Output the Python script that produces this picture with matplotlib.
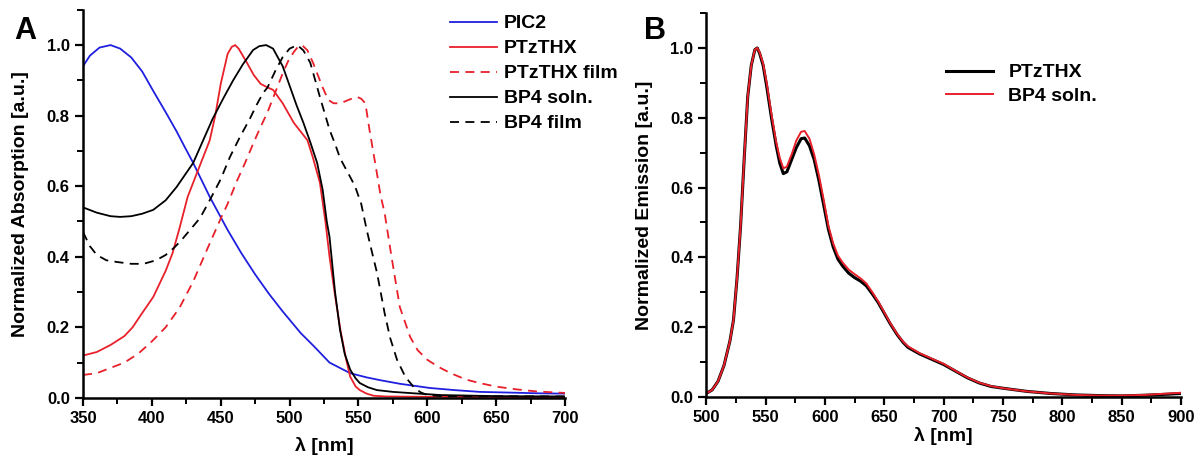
import numpy as np
import matplotlib.pyplot as plt
from matplotlib.ticker import MultipleLocator

plt.rcParams['font.family'] = ['Liberation Sans', 'DejaVu Sans']
plt.rcParams['font.weight'] = 'bold'

# ---- panel A : absorption ----
pic2_x = [350, 355, 362, 370, 377, 385, 393, 401, 410, 418, 424, 430, 436, 442, 455, 465, 475,
          485, 495, 508, 518, 529, 544, 556, 566, 580, 602, 620, 638, 660, 680, 700]
pic2_y = [0.94, 0.97, 0.993, 1.0, 0.99, 0.965, 0.925, 0.87, 0.81, 0.755, 0.71, 0.666, 0.618,
          0.57, 0.476, 0.41, 0.35, 0.295, 0.245, 0.184, 0.145, 0.10, 0.07, 0.058, 0.05, 0.04,
          0.028, 0.022, 0.017, 0.015, 0.013, 0.012]

ptz_x = [350, 360, 370, 380, 386, 392, 401, 410, 415, 420, 426, 433, 442, 446, 450, 455, 458,
         460.5, 463, 466, 469, 474, 479, 484, 488, 495, 503, 508, 513, 517, 522, 526, 529, 533,
         537, 541, 544, 548, 551, 556, 561, 570, 600, 700]
ptz_y = [0.12, 0.13, 0.15, 0.175, 0.20, 0.235, 0.286, 0.36, 0.41, 0.48, 0.57, 0.64, 0.73, 0.80,
         0.89, 0.975, 0.995, 1.0, 0.99, 0.97, 0.95, 0.915, 0.89, 0.88, 0.873, 0.835, 0.78, 0.755,
         0.73, 0.68, 0.61, 0.50, 0.40, 0.29, 0.19, 0.11, 0.06, 0.032, 0.022, 0.012, 0.006,
         0.004, 0.003, 0.002]

ptzf_x = [350, 360, 370, 380, 390, 400, 410, 420, 430, 440, 449.5, 455, 462, 467, 473.5, 478,
          484, 490, 495, 499, 503, 506, 509, 513, 517, 520, 524, 528, 532, 537, 543, 549, 552,
          555, 558, 563, 566, 569, 574, 580, 587.5, 593, 600, 608, 617, 628, 638, 650, 665, 680,
          700]
ptzf_y = [0.065, 0.07, 0.085, 0.10, 0.125, 0.16, 0.20, 0.255, 0.33, 0.42, 0.504, 0.55, 0.617,
          0.66, 0.72, 0.76, 0.81, 0.87, 0.92, 0.955, 0.98, 0.995, 1.0, 0.985, 0.95, 0.92, 0.88,
          0.845, 0.835, 0.835, 0.845, 0.853, 0.848, 0.835, 0.76, 0.646, 0.575, 0.524, 0.40,
          0.258, 0.173, 0.135, 0.108, 0.088, 0.07, 0.052, 0.042, 0.032, 0.024, 0.018, 0.014]

bp4_x = [350, 360, 370, 377, 385, 393, 401, 410, 418, 430, 444, 452, 459, 466, 473.5, 478, 483,
         488, 495, 500, 505, 510, 515, 520, 524, 527, 529, 533, 536.6, 540, 544, 548, 551, 557,
         563.5, 575, 590, 610, 650, 700]
bp4_y = [0.54, 0.525, 0.515, 0.513, 0.515, 0.522, 0.533, 0.56, 0.598, 0.666, 0.79, 0.85, 0.90,
         0.945, 0.986, 0.997, 1.0, 0.99, 0.94, 0.885, 0.83, 0.78, 0.725, 0.666, 0.59, 0.50,
         0.456, 0.30, 0.193, 0.125, 0.08, 0.055, 0.042, 0.03, 0.022, 0.017, 0.013, 0.008,
         0.005, 0.004]

bp4f_x = [350, 355, 360, 367, 375, 385, 394, 403, 410, 416, 421, 427.7, 435, 442, 450, 456.7,
          464, 471, 476, 480.7, 484, 490, 495, 500, 505.6, 510, 515, 519, 522, 526, 529, 533,
          536.6, 540, 544, 547.5, 552, 556, 560, 563.5, 569, 573, 578, 584, 590, 595, 600, 610,
          700]
bp4f_y = [0.47, 0.43, 0.405, 0.39, 0.385, 0.38, 0.38, 0.39, 0.405, 0.425, 0.445, 0.476, 0.51,
          0.56, 0.62, 0.683, 0.74, 0.79, 0.83, 0.864, 0.88, 0.93, 0.966, 0.99, 1.0, 0.985, 0.95,
          0.895, 0.853, 0.80, 0.76, 0.72, 0.68, 0.655, 0.626, 0.60, 0.55, 0.476, 0.41, 0.354,
          0.24, 0.17, 0.108, 0.06, 0.031, 0.016, 0.008, 0.005, 0.004]

# ---- panel B : emission ----
em_x = [500, 505, 510, 515, 520, 523, 526, 529, 532, 535, 538, 541, 543, 545, 548, 551, 555,
        559, 562, 565, 568, 572, 576, 580, 583, 587, 591, 595, 599, 603, 607, 611, 615, 620,
        625, 630, 635, 640, 645, 650, 655, 661, 666, 670, 680, 690, 700, 710, 720, 730, 740,
        750, 770, 790, 810, 830, 850, 870, 890, 900]
em_ptz = [0.01, 0.02, 0.045, 0.09, 0.16, 0.22, 0.34, 0.49, 0.68, 0.86, 0.95, 0.995, 1.0, 0.985,
          0.95, 0.89, 0.80, 0.72, 0.67, 0.64, 0.645, 0.68, 0.715, 0.74, 0.742, 0.72, 0.68, 0.62,
          0.55, 0.48, 0.43, 0.395, 0.375, 0.355, 0.342, 0.332, 0.318, 0.295, 0.27, 0.24, 0.21,
          0.178, 0.156, 0.142, 0.123, 0.108, 0.093, 0.074, 0.055, 0.04, 0.03, 0.025, 0.016,
          0.01, 0.006, 0.004, 0.003, 0.005, 0.008, 0.01]
em_bp4 = [0.01, 0.02, 0.045, 0.09, 0.16, 0.22, 0.34, 0.49, 0.68, 0.86, 0.95, 0.995, 1.0, 0.988,
          0.955, 0.90, 0.81, 0.73, 0.685, 0.655, 0.66, 0.695, 0.735, 0.76, 0.762, 0.74, 0.695,
          0.635, 0.565, 0.49, 0.44, 0.405, 0.385, 0.365, 0.352, 0.34, 0.325, 0.30, 0.273, 0.243,
          0.212, 0.18, 0.158, 0.145, 0.125, 0.11, 0.095, 0.075, 0.056, 0.041, 0.031, 0.025,
          0.016, 0.01, 0.006, 0.004, 0.004, 0.006, 0.01, 0.012]

fig = plt.figure(figsize=(12.03, 4.67), dpi=100)
axA = fig.add_axes([0.069, 0.148, 0.4007, 0.831])
axB = fig.add_axes([0.587, 0.150, 0.3947, 0.822])

lw = 1.3
dash = (0, (5, 3.5))
axA.plot(pic2_x, pic2_y, color='#1f1fe0', lw=lw, label='PIC2')
axA.plot(ptz_x, ptz_y, color='#e8202a', lw=lw, label='PTzTHX')
axA.plot(ptzf_x, ptzf_y, color='#e8202a', lw=lw, ls=dash, label='PTzTHX film')
axA.plot(bp4_x, bp4_y, color='black', lw=lw, label='BP4 soln.')
axA.plot(bp4f_x, bp4f_y, color='black', lw=lw, ls=dash, label='BP4 film')

axB.plot(em_x, em_ptz, color='black', lw=2.2, label='PTzTHX')
axB.plot(em_x, em_bp4, color='#e8202a', lw=1.4, label='BP4 soln.')

for ax, xlim in [(axA, (350, 700)), (axB, (500, 900))]:
    ax.set_xlim(*xlim)
    ax.set_ylim(0, 1.1)
    ax.xaxis.set_major_locator(MultipleLocator(50))
    ax.xaxis.set_minor_locator(MultipleLocator(25))
    ax.set_yticks(np.arange(0, 1.01, 0.2))
    ax.set_yticklabels(['%.1f' % v for v in np.arange(0, 1.01, 0.2)])
    ax.yaxis.set_minor_locator(MultipleLocator(0.1))
    for s in ['top', 'right']:
        ax.spines[s].set_visible(False)
    for s in ['left', 'bottom']:
        ax.spines[s].set_linewidth(1.8)
    ax.tick_params(which='major', direction='out', length=6, width=1.6, labelsize=12)
    ax.tick_params(which='minor', direction='out', length=4, width=1.4)

axA.set_xlabel('λ [nm]', fontsize=14, fontweight='bold', labelpad=8)
axB.set_xlabel('λ [nm]', fontsize=14, fontweight='bold', labelpad=1)
axA.set_ylabel('Normalized Absorption [a.u.]', fontsize=14, fontweight='bold', labelpad=13)
axB.set_ylabel('Normalized Emission [a.u.]', fontsize=14, fontweight='bold', labelpad=12)

axA.legend(loc='upper left', bbox_to_anchor=(0.368, 0.985), bbox_transform=fig.transFigure,
           frameon=False, handlelength=2.4, labelspacing=0.38, handletextpad=0.35,
           borderaxespad=0, prop={'weight': 'bold', 'size': 14})
axB.legend(loc='upper left', bbox_to_anchor=(0.78, 0.88), bbox_transform=fig.transFigure,
           frameon=False, handlelength=2.4, labelspacing=0.3, handletextpad=0.8,
           borderaxespad=0, prop={'weight': 'bold', 'size': 14})

fig.text(0.012, 0.965, 'A', fontsize=22, fontweight='bold', va='top')
fig.text(0.535, 0.965, 'B', fontsize=22, fontweight='bold', va='top')

fig.savefig('out.png', dpi=100)
